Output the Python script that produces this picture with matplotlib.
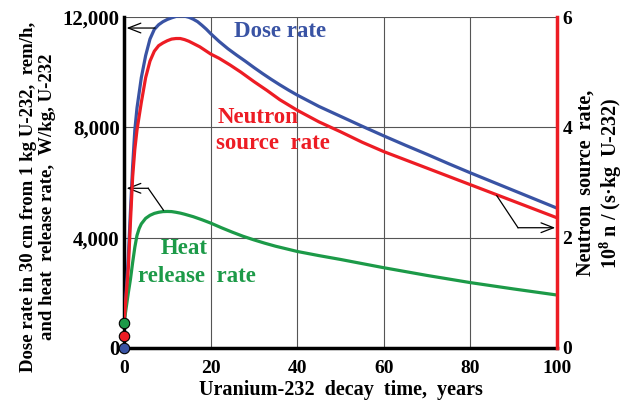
import matplotlib
matplotlib.use("Agg")
import matplotlib.pyplot as plt

plt.rcParams['font.family'] = ['Liberation Serif', 'DejaVu Serif']
plt.rcParams['font.weight'] = 'bold'
plt.rcParams['mathtext.fontset'] = 'custom'
plt.rcParams['mathtext.rm'] = 'Liberation Serif:bold'
plt.rcParams['mathtext.bf'] = 'Liberation Serif:bold'

# decay time, years
years_dose = [0, 0.5, 1, 1.5, 2, 2.5, 3, 3.5, 4, 5, 6, 7, 8, 9, 10, 11, 12, 13, 14, 15, 16, 17, 18, 19,
              20, 22, 24, 26, 28, 30, 32, 34, 36, 38, 40, 45, 50, 55, 60, 65, 70, 75, 80, 85, 90, 95, 100]
dose_rate = [900, 2000, 3300, 5000, 6600, 7900, 8700, 9250, 9800, 10600, 11200, 11550, 11720, 11830,
             11910, 11970, 12020, 12040, 12030, 11990, 11920, 11830, 11700, 11560, 11400, 11110, 10850,
             10620, 10400, 10170, 9950, 9740, 9540, 9350, 9170, 8760, 8400, 8040, 7690, 7350, 7020,
             6680, 6350, 6030, 5710, 5390, 5070]  # rem/h

years_neutron = [0, 0.5, 1, 1.5, 2, 2.5, 3, 3.5, 4, 5, 6, 7, 8, 9, 10, 11, 12, 13, 14, 15, 16, 17.5,
                 20, 22, 24.5, 27, 30, 33, 36, 40, 45, 50, 55, 60, 65, 70, 75, 80, 85, 90, 95, 100]
neutron_rate = [0.45, 0.95, 1.45, 2.3, 3.1, 3.6, 3.95, 4.2, 4.45, 4.9, 5.2, 5.38, 5.48, 5.53, 5.57,
                5.6, 5.61, 5.61, 5.59, 5.56, 5.52, 5.46, 5.33, 5.25, 5.13, 5.0, 4.83, 4.67, 4.5, 4.31,
                4.1, 3.92, 3.73, 3.56, 3.41, 3.26, 3.11, 2.96, 2.81, 2.66, 2.51, 2.36]  # 10^8 n/(s kg)

years_heat = [0, 0.5, 1, 1.5, 2, 2.5, 3, 3.5, 4, 5, 6, 7, 8, 9, 10, 11, 12, 13, 14, 16, 18, 20,
              22.5, 25, 27.5, 30, 32.5, 35, 40, 45, 50, 55, 60, 70, 80, 90, 100]
heat_rate = [900, 1450, 2000, 2500, 3100, 3650, 4080, 4330, 4500, 4700, 4810, 4880, 4920, 4945, 4950,
             4945, 4920, 4890, 4850, 4760, 4650, 4530, 4360, 4200, 4050, 3920, 3800, 3690, 3500, 3350,
             3210, 3060, 2910, 2630, 2370, 2140, 1920]  # W/kg

# values at t = 0 (circles)
start_dose = 0
start_neutron = 0.215
start_heat = 900

blue = '#3953a4'
red = '#ed1c24'
green = '#1c9a48'
grid_c = '#555555'

fig = plt.figure(figsize=(6.31, 4.01), dpi=100)
ax = fig.add_axes([0.1965, 0.1322, 0.6862, 0.8254])
ax2 = ax.twinx()

ax.set_xlim(0, 100)
ax.set_ylim(0, 12000)
ax2.set_ylim(0, 6)

for xv in [20, 40, 60, 80]:
    ax.axvline(xv, color=grid_c, lw=0.8, zorder=1)
for yv in [4000, 8000, 12000]:
    ax.axhline(yv, color=grid_c, lw=0.8, zorder=1)

line_kw = dict(lw=2.3, solid_joinstyle='round', solid_capstyle='round')
ax.plot(years_dose, dose_rate, color=blue, zorder=4, **line_kw)
ax.plot(years_heat, heat_rate, color=green, zorder=4, **line_kw)
ax2.plot(years_neutron, neutron_rate, color=red, zorder=3, **line_kw)

ax2.plot([0], [start_neutron], 'o', ms=7.5, mfc=red, mec='black', mew=0.8, clip_on=False, zorder=6)
ax2.plot([0], [start_heat / 2000], 'o', ms=7.5, mfc=green, mec='black', mew=0.8, clip_on=False, zorder=6)
ax2.plot([0], [start_dose], 'o', ms=7.5, mfc=blue, mec='black', mew=0.8, clip_on=False, zorder=6)

ax.set_xticks([0, 20, 40, 60, 80, 100])
ax.set_yticks([0, 4000, 8000, 12000])
ax.set_yticklabels(['0', '4,000', '8,000', '12,000'])
ax2.set_yticks([0, 2, 4, 6])
ax.tick_params(axis='y', length=0, labelsize=15, pad=3)
ax.tick_params(axis='x', length=0, labelsize=14, pad=9)
ax2.tick_params(axis='y', length=0, labelsize=14, pad=4)

for a in (ax, ax2):
    a.spines['top'].set_visible(False)
ax.spines['right'].set_visible(False)
ax2.spines['left'].set_visible(False)
ax2.spines['bottom'].set_visible(False)
ax.spines['left'].set_linewidth(2.5)
ax.spines['bottom'].set_linewidth(2.5)
ax2.spines['right'].set_linewidth(2.5)
ax2.spines['right'].set_color(red)

arrow = dict(arrowstyle='->,head_length=0.9,head_width=0.35', color='black', lw=0.9, shrinkA=0, shrinkB=0)
ax.annotate('', xy=(0.6, 11600), xytext=(7.2, 11600), arrowprops=arrow, zorder=5)
ax.plot([9.1, 5.6], [5000, 5790], color='black', lw=0.9, zorder=5)
ax.annotate('', xy=(0.6, 5790), xytext=(5.6, 5790), arrowprops=arrow, zorder=5)
ax2.plot([86.1, 91], [2.76, 2.18], color='black', lw=0.9, zorder=5)
ax2.annotate('', xy=(99.6, 2.18), xytext=(91, 2.18), arrowprops=arrow, zorder=5)

ax.text(36, 11460, 'Dose rate', color=blue, fontsize=16.5, ha='center', va='center')
ax.text(21.5, 8340, 'Neutron', color=red, fontsize=16.5, ha='left', va='center')
ax.text(21.3, 7400, 'source  rate', color=red, fontsize=16.5, ha='left', va='center')
ax.text(14.0, 3625, 'Heat', color=green, fontsize=16.5, ha='center', va='center')
ax.text(16.9, 2575, 'release  rate', color=green, fontsize=16.5, ha='center', va='center')

fig.text(38 / 631, 1 - 197 / 401, 'Dose rate in 30 cm from 1 kg U-232,  rem/h,\nand heat  release rate,  W/kg, U-232',
         rotation=90, ha='center', va='center', multialignment='center', fontsize=13.5, linespacing=1.1)
fig.text(600 / 631, 1 - 183 / 401, 'Neutron  source  rate,\n10$^{8}$ n / (s·kg  U-232)',
         rotation=90, ha='center', va='center', multialignment='center', fontsize=14.5, linespacing=1.05)
fig.text(341 / 631, 1 - 390 / 401, 'Uranium-232  decay  time,  years', ha='center', va='center', fontsize=14.5)

fig.savefig('out.png', dpi=100)
